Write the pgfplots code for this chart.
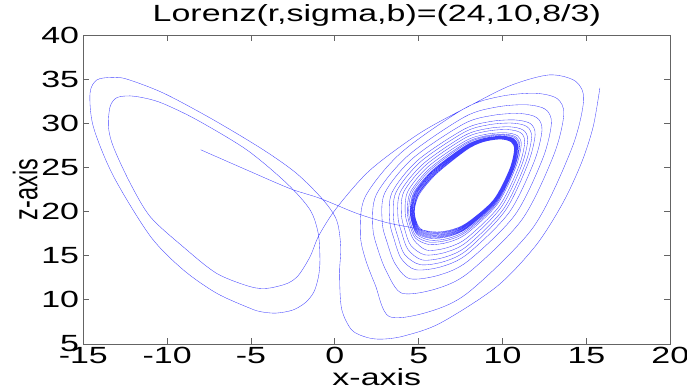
\documentclass[border=0pt]{standalone}
\usepackage{graphicx}
\usepackage{fontspec}
\setmainfont{Liberation Sans}
\usepackage{pgfplots}
\pgfplotsset{compat=1.18}
\newcommand{\sx}[1]{\scalebox{1.45}[1]{#1}}
\newcommand{\lblfont}{\fontsize{23.5}{26}\selectfont}
\definecolor{axgray}{RGB}{100,100,100}
\definecolor{traj}{RGB}{0,0,255}
\begin{document}
\begin{tikzpicture}
\path[use as bounding box] (-83.3bp,-43bp) rectangle (603.7bp,344bp);
\begin{axis}[
  at={(0,0)}, anchor=south west,
  scale only axis, width=587bp, height=309bp,
  xmin=-15, xmax=20, ymin=5, ymax=40,
  xtick={-15,-10,-5,0,5,10,15,20},
  ytick={5,10,15,20,25,30,35,40},
  xticklabels={\sx{-15},\sx{-10},\sx{-5},\sx{0},\sx{5},\sx{10},\sx{15},\sx{20}},
  yticklabels={\sx{5},\sx{10},\sx{15},\sx{20},\sx{25},\sx{30},\sx{35},\sx{40}},
  tick align=inside, major tick length=6bp,
  axis line style={axgray, line width=0.8bp},
  every tick/.style={axgray, line width=0.8bp},
  tick label style={font=\lblfont, text=black},
  xticklabel style={inner sep=0pt, anchor=north, yshift=-3bp},
  yticklabel style={inner sep=0pt, anchor=east, xshift=-4bp},
  title={\sx{Lorenz(r,sigma,b)=(24,10,8/3)}},
  title style={font=\lblfont, at={(axis description cs:0.5,1.024)}, anchor=base, inner sep=0pt},
  xlabel={\sx{x-axis}},
  xlabel style={font=\lblfont, at={(axis description cs:0.5,-0.1327)}, anchor=base, inner sep=0pt},
  ylabel={\scalebox{1}[1.45]{z-axis}},
  ylabel style={font=\lblfont, at={(axis description cs:-0.0784,0.5)}, anchor=base, inner sep=0pt},
]
\addplot[traj, line width=0.35bp, draw opacity=0.75, smooth, tension=0.5] coordinates {
(-8.00,27.00) (-5.30,24.75) (-2.67,22.60) (-0.89,21.50) (1.30,19.80) (3.09,18.75) (4.40,18.25)
(5.87,17.70) (6.87,17.90) (7.86,18.70) (9.45,21.30) (10.40,24.70) (10.70,27.00) (10.50,27.90) (9.85,28.20) (8.85,27.90) (7.86,27.00) (6.07,24.30) (5.08,22.10) (4.78,20.60) (4.78,19.40) (5.08,18.10)
(5.85,17.59) (6.86,17.80) (7.86,18.61) (9.47,21.27) (10.43,24.72) (10.73,27.04) (10.53,27.95) (9.87,28.25) (8.86,27.96) (7.85,27.07) (6.03,24.35) (5.02,22.11) (4.74,20.55) (4.75,19.33) (5.05,18.00)
(5.83,17.49) (6.85,17.70) (7.86,18.53) (9.48,21.23) (10.45,24.73) (10.76,27.08) (10.56,28.00) (9.89,28.30) (8.87,28.02) (7.84,27.14) (6.00,24.42) (4.98,22.12) (4.70,20.50) (4.72,19.26) (5.03,17.90)
(5.81,17.38) (6.84,17.59) (7.86,18.44) (9.50,21.20) (10.48,24.75) (10.79,27.12) (10.58,28.05) (9.91,28.36) (8.87,28.08) (7.83,27.21) (5.96,24.47) (4.92,22.14) (4.65,20.46) (4.69,19.18) (5.00,17.81)
(5.79,17.28) (6.83,17.49) (7.86,18.36) (9.52,21.16) (10.51,24.77) (10.82,27.16) (10.61,28.10) (9.93,28.41) (8.88,28.14) (7.82,27.28) (5.92,24.52) (4.87,22.15) (4.61,20.41) (4.66,19.11) (4.97,17.71)
(5.78,17.17) (6.83,17.39) (7.87,18.27) (9.54,21.13) (10.53,24.79) (10.85,27.20) (10.64,28.15) (9.96,28.46) (8.90,28.20) (7.82,27.35) (5.89,24.59) (4.82,22.16) (4.57,20.36) (4.63,19.04) (4.95,17.61)
(5.76,17.06) (6.82,17.29) (7.87,18.18) (9.55,21.10) (10.56,24.80) (10.88,27.24) (10.67,28.19) (9.98,28.51) (8.91,28.25) (7.82,27.42) (5.86,24.64) (4.77,22.17) (4.53,20.31) (4.60,18.97) (4.92,17.51)
(5.74,16.96) (6.81,17.19) (7.87,18.10) (9.57,21.06) (10.59,24.82) (10.91,27.28) (10.69,28.24) (10.00,28.56) (8.92,28.32) (7.81,27.49) (5.82,24.69) (4.71,22.18) (4.49,20.26) (4.57,18.90) (4.89,17.41)
(5.70,16.75) (6.79,16.98) (7.87,17.93) (9.60,20.99) (10.64,24.85) (10.97,27.36) (10.75,28.34) (10.04,28.67) (8.93,28.44) (7.79,27.63) (5.75,24.81) (4.61,22.21) (4.40,20.17) (4.51,18.75) (4.84,17.22)
(5.66,16.53) (6.77,16.78) (7.87,17.75) (9.64,20.93) (10.69,24.89) (11.02,27.44) (10.80,28.44) (10.08,28.77) (8.95,28.56) (7.77,27.76) (5.68,24.92) (4.51,22.23) (4.32,20.07) (4.45,18.61) (4.79,17.02)
(5.61,16.27) (6.75,16.52) (7.88,17.54) (9.69,20.84) (10.77,24.94) (11.11,27.56) (10.89,28.59) (10.14,28.93) (8.97,28.74) (7.75,27.97) (5.56,25.09) (4.35,22.28) (4.19,19.95) (4.36,18.43) (4.71,16.78)
(5.48,15.63) (6.69,15.91) (7.88,17.02) (9.81,20.64) (10.96,25.06) (11.32,27.84) (11.08,28.93) (10.29,29.29) (9.05,29.10) (7.74,28.31) (5.42,25.27) (4.11,22.23) (3.97,19.66) (4.16,18.00) (4.52,16.19)
(5.36,15.10) (6.63,15.40) (7.89,16.59) (9.91,20.47) (11.12,25.16) (11.50,28.08) (11.24,29.22) (10.42,29.60) (9.12,29.41) (7.73,28.61) (5.28,25.43) (3.90,22.20) (3.76,19.42) (3.98,17.64) (4.36,15.70)
(5.21,14.52) (6.56,14.84) (7.90,16.12) (10.05,20.28) (11.33,25.30) (11.73,28.40) (11.46,29.62) (10.59,30.02) (9.20,29.84) (7.72,28.99) (5.10,25.63) (3.64,22.16) (3.50,19.16) (3.74,17.24) (4.15,15.16)
(5.08,13.99) (6.50,14.33) (7.91,15.69) (10.16,20.11) (11.51,25.41) (11.94,28.68) (11.66,29.96) (10.73,30.38) (9.27,30.20) (7.71,29.33) (4.94,25.81) (3.40,22.13) (3.27,18.92) (3.53,16.88) (3.96,14.67)
(4.82,13.41) (6.38,13.77) (7.92,15.22) (10.40,19.92) (11.88,25.65) (12.35,29.24) (12.04,30.64) (11.03,31.11) (9.43,30.90) (7.70,29.95) (4.67,26.07) (2.97,22.09) (2.83,18.66) (3.12,16.48) (3.58,14.13)
(4.46,12.40) (6.21,12.80) (7.94,14.40) (10.73,19.60) (12.39,25.98) (12.91,30.00) (12.56,31.58) (11.43,32.10) (9.64,31.84) (7.72,30.71) (4.35,26.32) (2.47,21.92) (2.26,18.20) (2.55,15.80) (3.08,13.20)
(3.99,10.76) (5.99,11.22) (7.97,13.07) (11.15,19.07) (13.05,26.40) (13.65,31.00) (13.25,32.80) (11.95,33.40) (9.91,33.06) (7.75,31.71) (3.93,26.64) (1.80,21.64) (1.52,17.46) (1.81,14.68) (2.41,11.68)
(3.24,8.11) (5.64,8.67) (8.01,10.92) (11.83,18.22) (14.11,27.08) (14.83,32.60) (14.35,34.76) (12.79,35.48)
(10.50,34.30) (8.06,32.00) (5.08,28.90) (2.10,24.70) (0.10,20.40) (-0.95,17.30) (-1.45,15.00) (-2.08,13.00) (-2.55,12.15) (-3.07,11.70) (-4.06,11.30) (-5.06,11.50) (-7.05,13.00) (-9.04,16.00) (-11.00,19.40) (-12.20,23.20) (-13.20,27.30) (-13.50,29.60) (-13.40,31.90) (-13.00,32.90) (-12.20,33.10) (-11.20,32.80) (-10.20,32.20) (-8.24,30.40) (-5.26,27.00) (-2.87,23.20) (-1.48,20.20) (-0.99,17.50) (-0.89,14.50) (-0.98,12.60) (-1.25,10.90) (-1.75,9.70) (-2.50,8.85) (-3.50,8.50) (-4.40,8.65) (-5.06,9.05) (-7.05,10.75) (-9.04,13.40) (-11.00,17.20) (-13.20,24.00) (-14.40,29.60) (-14.60,33.40) (-14.20,34.90) (-13.30,35.20) (-12.40,35.00) (-10.20,33.40) (-7.25,30.40) (-4.27,27.00) (-2.27,24.30) (-0.69,21.30) (0.11,19.00) (0.35,16.00) (0.28,13.00) (0.40,9.00) (1.00,6.60) (1.90,5.75) (2.80,5.55) (4.10,5.90) (6.27,7.35) (9.65,11.50) (12.00,16.20) (13.60,21.00) (14.70,25.50) (15.40,29.60) (15.80,34.00)
};
\end{axis}
\end{tikzpicture}
\end{document}
